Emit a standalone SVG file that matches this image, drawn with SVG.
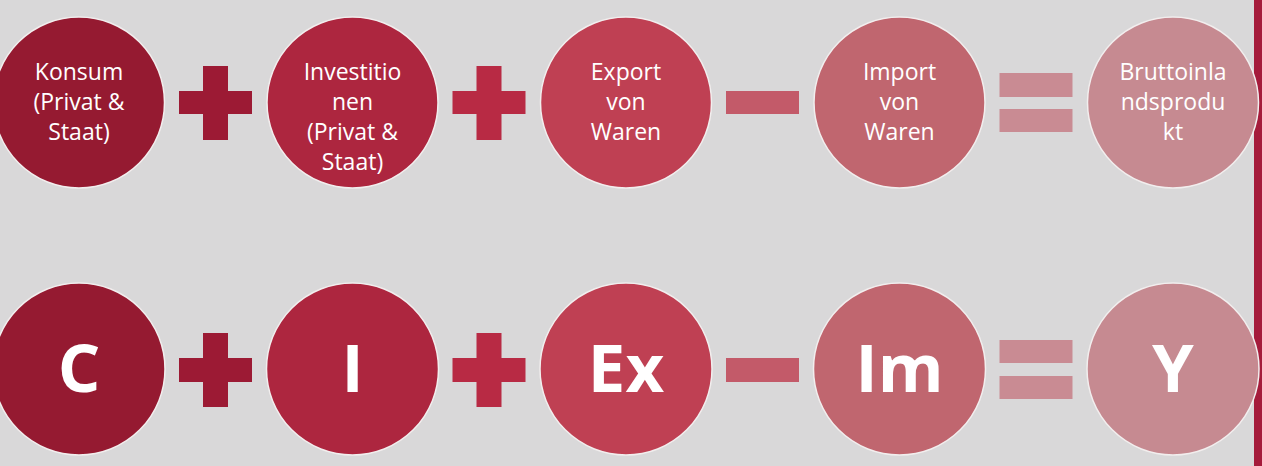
<svg xmlns="http://www.w3.org/2000/svg" width="1262" height="466" viewBox="0 0 1262 466">
<style>
.circ{stroke:#f2eeee;stroke-width:1.5}
.lbl{font-family:"Open Sans","Liberation Sans",sans-serif;font-size:23px;fill:#ffffff;text-anchor:middle}
.sym{font-family:"Open Sans","Liberation Sans",sans-serif;font-size:67px;font-weight:bold;fill:#ffffff;text-anchor:middle}
</style>
<rect x="0" y="0" width="1262" height="466" fill="#d9d8d9"/>
<rect x="1254" y="0" width="8" height="466" fill="#a51b3b"/>

<g id="connectors">
  <g id="plus1-top" fill="#9c1a34"><rect x="179" y="91" width="73" height="23"/><rect x="203" y="66" width="25" height="74"/></g>
  <g id="plus2-top" fill="#b82a44"><rect x="452.5" y="91" width="73" height="23"/><rect x="476.5" y="66" width="25" height="74"/></g>
  <g id="minus-top" fill="#c35a69"><rect x="726" y="91" width="73" height="23"/></g>
  <g id="equals-top" fill="#c98b93"><rect x="999.5" y="73" width="73" height="24"/><rect x="999.5" y="109" width="73" height="23"/></g>

  <g id="plus1-bottom" fill="#9c1a34"><rect x="179" y="358" width="73" height="24"/><rect x="203" y="333" width="25" height="74"/></g>
  <g id="plus2-bottom" fill="#b82a44"><rect x="452.5" y="358" width="73" height="24"/><rect x="476.5" y="333" width="25" height="74"/></g>
  <g id="minus-bottom" fill="#c35a69"><rect x="726" y="358" width="73" height="24"/></g>
  <g id="equals-bottom" fill="#c98b93"><rect x="999.5" y="340" width="73" height="23"/><rect x="999.5" y="376" width="73" height="23"/></g>
</g>

<g id="konsum">
  <circle class="circ" cx="79" cy="102.5" r="85.5" fill="#951a31"/>
  <text class="lbl" x="79" y="80">Konsum</text>
  <text class="lbl" x="79" y="110">(Privat &amp;</text>
  <text class="lbl" x="79" y="140">Staat)</text>
</g>
<g id="investitionen">
  <circle class="circ" cx="352.5" cy="102.5" r="85.5" fill="#ad263f"/>
  <text class="lbl" x="352.5" y="80">Investitio</text>
  <text class="lbl" x="352.5" y="110">nen</text>
  <text class="lbl" x="352.5" y="140">(Privat &amp;</text>
  <text class="lbl" x="352.5" y="170">Staat)</text>
</g>
<g id="export">
  <circle class="circ" cx="626" cy="102.5" r="85.5" fill="#bf4053"/>
  <text class="lbl" x="626" y="80">Export</text>
  <text class="lbl" x="626" y="110">von</text>
  <text class="lbl" x="626" y="140">Waren</text>
</g>
<g id="import">
  <circle class="circ" cx="899.5" cy="102.5" r="85.5" fill="#c0666f"/>
  <text class="lbl" x="899.5" y="80">Import</text>
  <text class="lbl" x="899.5" y="110">von</text>
  <text class="lbl" x="899.5" y="140">Waren</text>
</g>
<g id="bip">
  <circle class="circ" cx="1173" cy="102.5" r="85.5" fill="#c68a91"/>
  <text class="lbl" x="1173" y="80">Bruttoinla</text>
  <text class="lbl" x="1173" y="110">ndsprodu</text>
  <text class="lbl" x="1173" y="140">kt</text>
</g>

<g id="c">
  <circle class="circ" cx="79" cy="369" r="86" fill="#951a31"/>
  <text class="sym" x="79" y="392">C</text>
</g>
<g id="i">
  <circle class="circ" cx="352.5" cy="369" r="86" fill="#ad263f"/>
  <text class="sym" x="352.5" y="392">I</text>
</g>
<g id="ex">
  <circle class="circ" cx="626" cy="369" r="86" fill="#bf4053"/>
  <text class="sym" x="626" y="392">Ex</text>
</g>
<g id="im">
  <circle class="circ" cx="899.5" cy="369" r="86" fill="#c0666f"/>
  <text class="sym" x="899.5" y="392">Im</text>
</g>
<g id="y">
  <circle class="circ" cx="1173" cy="369" r="86" fill="#c68a91"/>
  <text class="sym" x="1173" y="392">Y</text>
</g>
</svg>
